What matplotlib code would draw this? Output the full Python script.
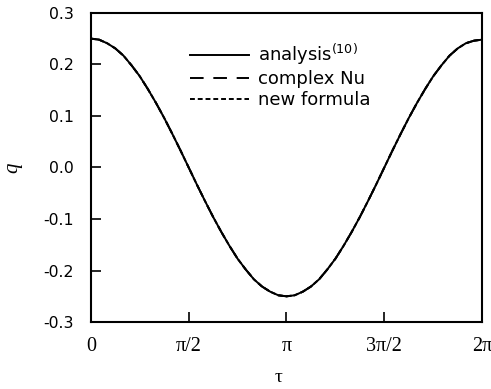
import numpy as np
import matplotlib
matplotlib.use("Agg")
import matplotlib.pyplot as plt

plt.rcParams['mathtext.fontset'] = 'dejavusans'

# heat flux q over one period (pi/24 steps)
tau = np.linspace(0, 2 * np.pi, 49)
q_analysis = [0.250, 0.248, 0.241, 0.231, 0.217, 0.198, 0.177, 0.152, 0.125, 0.096, 0.065, 0.033,
              0.000, -0.033, -0.065, -0.096, -0.125, -0.152, -0.177, -0.198, -0.217, -0.231, -0.241, -0.248,
              -0.250, -0.248, -0.241, -0.231, -0.217, -0.198, -0.177, -0.152, -0.125, -0.096, -0.065, -0.033,
              0.000, 0.033, 0.065, 0.096, 0.125, 0.152, 0.177, 0.198, 0.217, 0.231, 0.241, 0.246, 0.248]
q_complex = list(q_analysis)
q_new = list(q_analysis)

xticks = [0, np.pi / 2, np.pi, 3 * np.pi / 2, 2 * np.pi]
xlabels = ['0', 'π/2', 'π', '3π/2', '2π']
yticks = [-0.3, -0.2, -0.1, 0.0, 0.1, 0.2, 0.3]

fig = plt.figure(figsize=(4.91, 3.89), dpi=100)
ax = fig.add_axes([0.185, 0.172, 0.797, 0.795])

ax.plot(tau, q_analysis, color='black', lw=1.4, ls='-', label='analysis$^{(10)}$')
ax.plot(tau, q_complex, color='black', lw=1.4, ls=(0, (7, 5)), label='complex Nu')
ax.plot(tau, q_new, color='black', lw=1.4, ls=(0, (2.5, 1.5)), label='new formula')

ax.set_xlim(0, 2 * np.pi)
ax.set_ylim(-0.3, 0.3)
ax.set_xticks(xticks)
ax.set_xticklabels(xlabels, family='Liberation Serif', fontsize=14.5)
ax.set_yticks(yticks)
ax.set_yticklabels(['%.1f' % v for v in yticks], family='DejaVu Sans', fontsize=11.3)
ax.tick_params(direction='in', length=7, width=1.2)
ax.tick_params(axis='y', pad=12)
ax.tick_params(axis='x', pad=11)
for s in ax.spines.values():
    s.set_linewidth(1.5)

ax.set_xlabel('τ', family='Liberation Serif', fontsize=14, labelpad=9)
ax.xaxis.label.set_x(0.479)
ax.set_ylabel('q', family='Liberation Serif', style='italic', fontsize=15, labelpad=15, rotation=90)

leg = ax.legend(loc='upper left', bbox_to_anchor=(0.253, 0.905), frameon=False,
                prop={'family': 'DejaVu Sans', 'size': 13},
                handlelength=3.3, handletextpad=0.45, labelspacing=0.15, borderpad=0, borderaxespad=0)

fig.savefig('out.png', dpi=100)
